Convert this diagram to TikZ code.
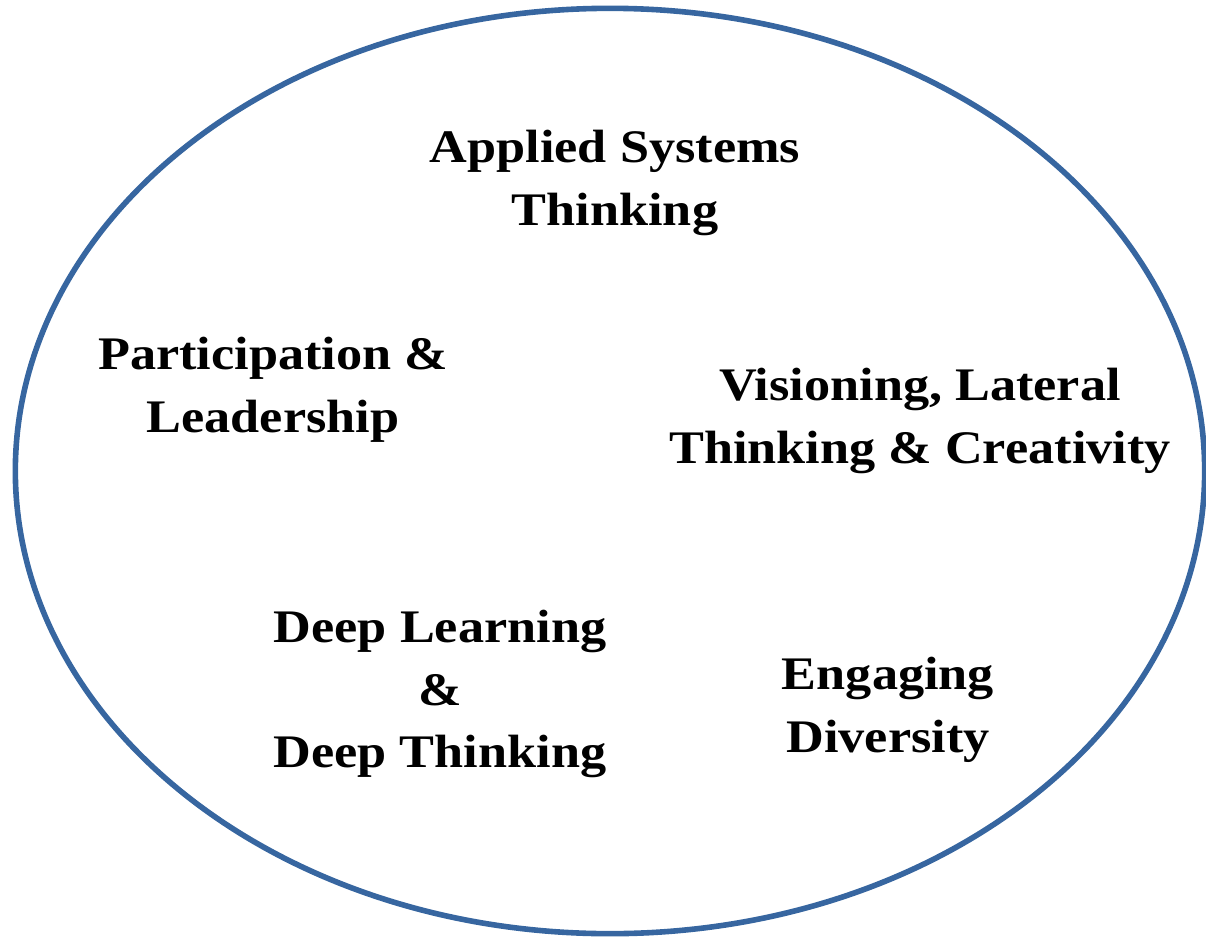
\documentclass[tikz,border=0pt]{standalone}
\usepackage{fontspec}
\setmainfont{Liberation Serif}[BoldFeatures={FakeStretch=1.12}]
\usetikzlibrary{shapes.geometric}
\begin{document}
\begin{tikzpicture}[x=0.75pt,y=-0.75pt,
  lbl/.style={font=\bfseries\fontsize{35}{47}\selectfont, align=center, text=black},
  ring/.style={draw=ringblue, line width=4.2pt}]
\definecolor{ringblue}{HTML}{3766A0}
\useasboundingbox (0,0) rectangle (1206,938);
\node[ring, ellipse, minimum width=892pt, minimum height=694pt, inner sep=0pt] (ell) at (610,471) {};
\node[lbl] (ast) at (615,183) {Applied Systems\\Thinking};
\node[lbl] (pl) at (273,390) {Participation \&\\Leadership};
\node[lbl] (vis) at (920,421) {Visioning, Lateral\\Thinking \& Creativity};
\node[lbl] (dl) at (440,694) {Deep Learning\\\&\\Deep Thinking};
\node[lbl] (ed) at (888,710) {Engaging\\Diversity};
\end{tikzpicture}
\end{document}
